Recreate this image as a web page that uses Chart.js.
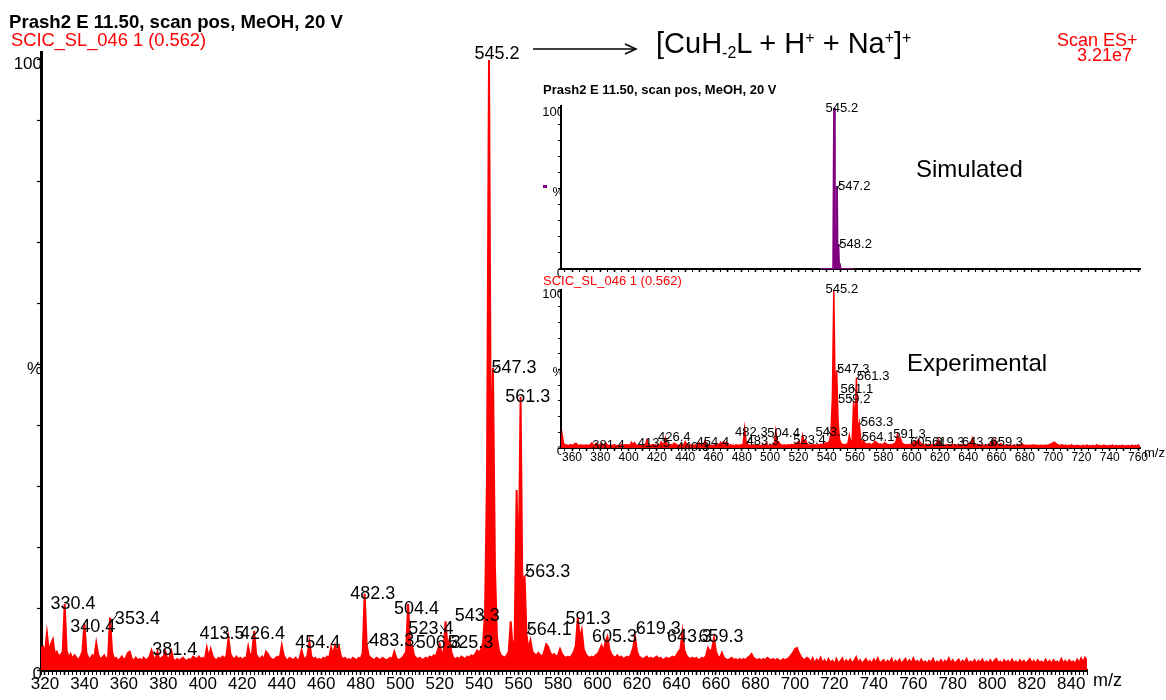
<!DOCTYPE html>
<html><head><meta charset="utf-8">
<script src="https://cdn.jsdelivr.net/npm/chart.js@4.4.1/dist/chart.umd.min.js"></script>
<style>
html,body{margin:0;padding:0;background:#fff;}
#wrap{position:relative;width:1166px;height:700px;overflow:hidden;font-family:"Liberation Sans",Arial,sans-serif;background:#fff;}
canvas{position:absolute;left:0;top:0;}
.t{position:absolute;white-space:nowrap;line-height:1;color:#000;}
.t sub{font-size:0.55em;vertical-align:-0.3em;line-height:0;}
.t sup{font-size:0.55em;vertical-align:0.6em;line-height:0;}
</style></head><body>
<div id="wrap">
<canvas id="main" width="1166" height="700" style="width:1166px;height:700px"></canvas>
<canvas id="sim" width="1166" height="700" style="width:1166px;height:700px"></canvas>
<canvas id="exp" width="1166" height="700" style="width:1166px;height:700px"></canvas>
<svg style="position:absolute;left:0;top:0" width="1166" height="700"><line x1="533" y1="49" x2="635" y2="49" stroke="#000" stroke-width="1.5"/><polyline points="625,44 636,49 625,54" fill="none" stroke="#000" stroke-width="1.5"/></svg>
<div class="t" style="left:9px;top:13px;font-size:18.6px;font-weight:bold;">Prash2 E 11.50, scan pos, MeOH, 20 V</div>
<div class="t" style="left:11px;top:31px;font-size:18.3px;color:#f00;">SCIC_SL_046 1 (0.562)</div>
<div class="t" style="left:1057px;top:31px;font-size:18px;color:#f00;">Scan ES+</div>
<div class="t" style="left:1077px;top:46px;font-size:18px;color:#f00;">3.21e7</div>
<div class="t" style="left:656px;top:29px;font-size:29px;">[CuH<sub>-2</sub>L + H<sup>+</sup> + Na<sup>+</sup>]<sup>+</sup></div>
<div class="t" style="left:1093px;top:671px;font-size:18px;">m/z</div>
<div class="t" style="left:543px;top:83px;font-size:13px;font-weight:bold;">Prash2 E 11.50, scan pos, MeOH, 20 V</div>
<div class="t" style="left:543px;top:274px;font-size:13px;color:#f00;">SCIC_SL_046 1 (0.562)</div>
<div class="t" style="left:916px;top:157px;font-size:24px;">Simulated</div>
<div class="t" style="left:907px;top:351px;font-size:24px;">Experimental</div>
<div class="t" style="left:1144px;top:446px;font-size:13px;">m/z</div>
<div style="position:absolute;left:543px;top:185px;width:4px;height:3px;background:#800080"></div>
</div>
<script>
const FONT = '"Liberation Sans", Arial, sans-serif';

// ---- Experimental spectrum: relative intensity (%) at m/z 318, 319, ... 848
const expStartMz = 318;
const expIntensity = [
3.5,3.8,2.8,6.0,3.0,4.2,5.0,2.6,3.0,2.2,
2.5,3.0,10.8,3.2,2.0,2.6,1.8,2.4,2.0,1.6,
2.2,3.0,7.6,2.8,2.0,1.8,2.4,2.0,4.4,2.5,
1.8,2.0,2.4,1.6,2.2,8.6,3.0,1.8,2.0,1.5,
1.8,2.2,1.6,2.0,2.8,3.0,1.8,1.5,2.0,1.6,
1.8,1.5,2.0,1.6,1.8,2.2,3.2,2.0,1.8,3.0,
1.6,2.0,2.2,3.0,1.8,2.0,3.1,1.8,1.4,1.8,
1.5,1.8,2.0,1.6,1.5,1.8,1.6,2.2,2.0,1.8,
2.2,1.8,2.0,1.6,3.6,2.0,3.4,2.2,1.8,1.6,
2.0,1.8,2.2,1.8,2.4,5.2,2.6,2.0,1.8,2.2,
1.8,2.0,1.6,2.0,1.8,3.8,2.2,2.8,6.4,2.6,
2.0,1.8,2.2,1.6,3.0,2.6,2.0,1.8,1.6,2.0,
2.2,2.0,4.0,2.4,1.8,1.6,2.0,1.8,1.6,2.0,
1.6,1.8,3.2,2.0,1.8,2.4,4.6,2.2,1.8,2.0,
1.6,1.8,1.6,2.0,1.8,2.2,2.0,3.6,2.6,4.0,
2.8,3.8,2.2,1.8,2.0,1.6,1.8,1.5,2.0,1.8,
1.6,2.0,1.8,2.8,12.5,4.2,2.4,2.0,1.8,1.6,
2.0,1.8,1.6,2.0,1.8,1.6,1.8,2.0,1.8,3.0,
2.0,1.6,1.8,2.0,2.4,3.0,10.8,4.2,4.0,2.4,
2.0,1.8,2.0,1.6,1.8,2.0,1.8,2.2,2.0,2.4,
2.2,3.2,4.2,2.6,3.0,8.0,3.6,5.0,2.8,2.0,
1.8,2.0,1.8,2.2,2.0,1.8,2.2,2.0,2.4,2.2,
2.6,3.2,2.8,3.4,4.5,9.5,32,100,30,49.5,
17,5.5,3.2,2.4,2.2,2.0,2.4,3.0,8.0,3.5,
5.0,29.5,14,44.8,10,15.5,5.8,3.4,4.8,3.0,
2.6,2.4,2.8,2.4,2.2,3.0,4.2,3.8,2.8,2.4,
2.6,2.2,2.4,3.4,2.6,2.2,2.0,2.2,2.0,2.4,
3.0,4.0,8.6,5.0,6.5,3.4,2.6,2.2,2.0,2.2,
2.0,2.4,2.6,3.2,4.0,3.0,4.6,5.4,3.4,2.6,
2.2,2.0,2.4,2.0,2.2,1.8,2.0,2.2,2.0,2.6,
3.6,5.4,3.0,2.2,2.0,1.8,2.0,2.2,1.8,2.0,
1.8,2.0,2.2,1.8,2.0,1.6,1.8,2.0,1.8,2.0,
2.2,2.0,2.4,3.0,3.4,6.2,3.2,2.4,2.0,1.8,
2.0,1.8,2.0,1.6,1.8,2.0,1.8,2.4,3.6,3.0,
3.4,5.2,3.0,2.2,2.0,2.8,2.0,1.8,1.6,1.8,
2.0,1.6,1.8,1.5,1.8,1.6,1.8,1.6,2.0,2.2,
2.6,2.0,1.8,1.6,1.8,1.5,1.8,1.6,2.0,1.8,
1.6,1.8,1.5,1.8,1.6,1.4,1.8,1.6,1.8,2.0,
2.4,2.8,3.4,3.6,2.8,2.2,1.8,1.6,2.0,1.8,
1.2,1.9,1.0,1.7,1.3,2.0,1.1,1.6,1.0,1.8,
1.2,1.5,0.9,1.8,1.1,1.4,1.9,1.0,1.6,1.2,
1.7,1.0,1.5,2.1,1.1,1.6,1.0,1.4,1.8,1.1,
1.5,1.0,1.7,1.2,1.9,1.0,1.4,1.6,1.0,1.5,
1.2,1.8,0.9,1.5,1.1,1.7,1.0,1.4,1.8,1.0,
1.6,1.1,1.9,1.2,1.5,1.0,1.7,1.1,1.4,1.0,
1.5,1.2,1.8,1.0,1.4,1.1,1.6,1.0,1.5,1.2,
1.9,1.1,1.6,1.0,1.4,1.7,1.0,1.5,1.2,1.8,
1.0,1.4,1.1,1.6,1.0,1.5,1.2,1.7,1.0,1.4,
1.1,1.6,1.0,1.5,1.8,1.1,1.4,1.0,1.6,1.2,
1.5,1.0,1.7,1.1,1.4,1.0,1.6,1.2,1.5,1.0,
1.4,1.8,1.1,1.5,1.0,1.6,1.2,1.4,1.0,1.7,
1.1,1.5,1.0,1.6,1.2,1.4,1.0,1.8,1.1,1.5,
1.0,1.6,1.2,1.4,1.0,1.7,1.1,1.9,1.2,2.0,
1.6
];

// ---- Simulated isotope pattern
const simMz        = [535, 544.6, 545.2, 545.7, 546.2, 546.7, 547.2, 547.7, 548.2, 548.7, 549.2, 549.8, 559];
const simIntensity = [0,   0,     100,   6,     26,    5,     51.5,  4,     15.5,  2,     3.5,   0,     0];

// ---- Peak labels (m/z and intensity level)
const mainLabelMz  = [330.4,340.4,353.4,381.4,413.5,426.4,454.4,482.3,483.3,504.4,506.3,523.4,525.3,543.3,545.2,547.3,561.3,563.3,564.1,591.3,605.3,619.3,643.3,659.3];
const mainLabelPct = [10.8, 7.0,  8.4,  3.3,  5.9,  5.9,  4.4,  12.5, 4.8,  10.0, 4.4,  6.7,  4.4,  8.9,  101,  49.5, 44.8, 16.1, 6.6,  8.4,  5.4,  6.7,  5.4,  5.4];
const expLabelMz   = [381.4,413.5,426.4,440.3,454.4,482.3,483.3,504.4,523.4,543.3,545.2,547.3,561.3,561.1,559.2,563.3,564.1,591.3,605.3,619.3,643.3,659.3];
const expLabelPct  = [1.9,  3.2,  7.0,  0.5,  3.8,  10.2, 4.5,  9.6,  5.1,  10.2, 101.3,50.3, 45.9, 37.6, 31.2, 16.6, 7.0,  8.9,  3.8,  3.8,  3.8,  3.8];
const simLabelMz   = [545.2, 547.2, 548.2];
const simLabelPct  = [100,   51.6,  15.5];

// ---- Tick labels
const mainXLabels = [320,340,360,380,400,420,440,460,480,500,520,540,560,580,600,620,640,660,680,700,720,740,760,780,800,820,840];
const insetXLabels = [360,380,400,420,440,460,480,500,520,540,560,580,600,620,640,660,680,700,720,740,760];
const yTicks = [0,10,20,30,40,50,60,70,80,90,100];
const yLabels = {0:'0', 50:'%', 100:'100'};

// ---- Label layout (pixel offsets of label text from its peak, leader style)
const mainLabelDx   = [-15,-15,4,-14,-30,-15,-15,-15,2,-15,3,-38,-2,-31,-15,-2,-16,0,0,-15,-16,0,-16,-16];
const mainLabelLead = ['','','L','','R','','','','L','','L','R','L','R','','L','','L','L','','','L','',''];
const expLabelDx    = [-10,-10,-8,-9,-9,-10,0,-9,-10,-16,-8.5,0,0,-16,-16,1,1,-6,-9,-7,-11,-5];
const expLabelLead  = ['','','','','','','L','','','R','','L','L','R','R','L','L','','','L','','L'];
const simLabelDx    = [-8.5, 1, 1];
const simLabelLead  = ['', 'L', 'L'];

const expPoints = expIntensity.map((v, i) => ({x: expStartMz + i, y: v}));
const simPoints = simMz.map((m, i) => ({x: m, y: simIntensity[i]}));

const peakLabelsPlugin = {
  id: 'peakLabels',
  afterDatasetsDraw(chart, args, o) {
    if (!o || !o.mz) return;
    const ctx = chart.ctx, xs = chart.scales.x, ys = chart.scales.y;
    ctx.save();
    ctx.font = o.size + 'px ' + FONT;
    ctx.fillStyle = '#000'; ctx.strokeStyle = '#000'; ctx.lineWidth = 1;
    ctx.textAlign = 'left'; ctx.textBaseline = 'middle';
    const k = o.size / 18;
    o.mz.forEach((m, i) => {
      const px = xs.getPixelForValue(m), py = ys.getPixelForValue(o.pct[i]);
      ctx.fillText(m.toFixed(1), px + o.dx[i], py);
      const ld = o.lead[i];
      if (ld) {
        const s = ld === 'L' ? 1 : -1;
        ctx.beginPath(); ctx.moveTo(px + s * 6 * k, py - 4 * k); ctx.lineTo(px, py + 4 * k); ctx.stroke();
      }
    });
    ctx.restore();
  }
};
Chart.register(peakLabelsPlugin);

function xAxis(min, max, step, labels, size, tl, bw, h) {
  return {
    type: 'linear', min: min, max: max,
    afterBuildTicks: s => { const t = []; for (let v = Math.ceil(min / step) * step; v <= max + 1e-9; v += step) t.push({value: v}); s.ticks = t; },
    afterFit: s => { s.height = h; },
    ticks: { autoSkip: false, maxRotation: 0, minRotation: 0, padding: -1, color: '#000', font: {size: size, family: FONT},
      callback: v => labels.includes(v) ? String(v) : '' },
    grid: { drawOnChartArea: false, drawTicks: true, tickLength: tl, tickColor: '#000',
      tickWidth: c => (c.tick && c.tick.value % 10 === 0) ? 1.6 : 1 },
    border: { display: true, color: '#000', width: bw }
  };
}
function yAxis(max, size, tl, bw, w, pad, off) {
  return {
    type: 'linear', min: 0, max: max,
    afterBuildTicks: s => { s.ticks = yTicks.map(v => ({value: v})); },
    afterFit: s => { s.width = w; },
    ticks: { autoSkip: false, padding: pad, labelOffset: off, color: '#000', font: {size: size, family: FONT},
      callback: v => (v in yLabels) ? yLabels[v] : '' },
    grid: { drawOnChartArea: false, drawTicks: true, tickLength: tl, tickColor: '#000', tickWidth: 1.2 },
    border: { display: true, color: '#000', width: bw }
  };
}
function baseOpts(pad, scales, labels) {
  return {
    responsive: false, animation: false, devicePixelRatio: 1, events: [],
    layout: { padding: pad, autoPadding: false },
    scales: scales,
    plugins: { legend: {display: false}, tooltip: {enabled: false}, title: {display: false}, peakLabels: labels }
  };
}

new Chart(document.getElementById('main'), {
  type: 'line',
  data: { datasets: [{ data: expPoints, borderColor: '#ff0000', backgroundColor: '#ff0000', borderWidth: 2, fill: 'origin', pointRadius: 0, tension: 0 }] },
  options: baseOpts({left: 0, top: 52, right: 79, bottom: 0},
    { x: xAxis(318, 848, 2, mainXLabels, 17, 5, 3, 30), y: yAxis(101.31, 17, 4, 3, 41, -5, 4) },
    { mz: mainLabelMz, pct: mainLabelPct, dx: mainLabelDx, lead: mainLabelLead, size: 18 })
});

new Chart(document.getElementById('sim'), {
  type: 'line',
  data: { datasets: [{ data: simPoints, borderColor: '#800080', backgroundColor: '#800080', borderWidth: 2, fill: 'origin', pointRadius: 0, tension: 0 }] },
  options: baseOpts({left: 521, top: 106, right: 26, bottom: 421},
    { x: xAxis(352.2, 761.4, 5, [], 12, 3, 2, 10), y: yAxis(101.24, 13, 3, 2, 40, -6, 4) },
    { mz: simLabelMz, pct: simLabelPct, dx: simLabelDx, lead: simLabelLead, size: 13 })
});

new Chart(document.getElementById('exp'), {
  type: 'line',
  data: { datasets: [{ data: expPoints, borderColor: '#ff0000', backgroundColor: '#ff0000', borderWidth: 1.5, fill: 'origin', pointRadius: 0, tension: 0 }] },
  options: baseOpts({left: 521, top: 290, right: 26, bottom: 230},
    { x: xAxis(352.2, 761.4, 5, insetXLabels, 12, 3, 2, 22), y: yAxis(100.64, 13, 3, 2, 40, -6, 3) },
    { mz: expLabelMz, pct: expLabelPct, dx: expLabelDx, lead: expLabelLead, size: 13 })
});
</script>
</body></html>
